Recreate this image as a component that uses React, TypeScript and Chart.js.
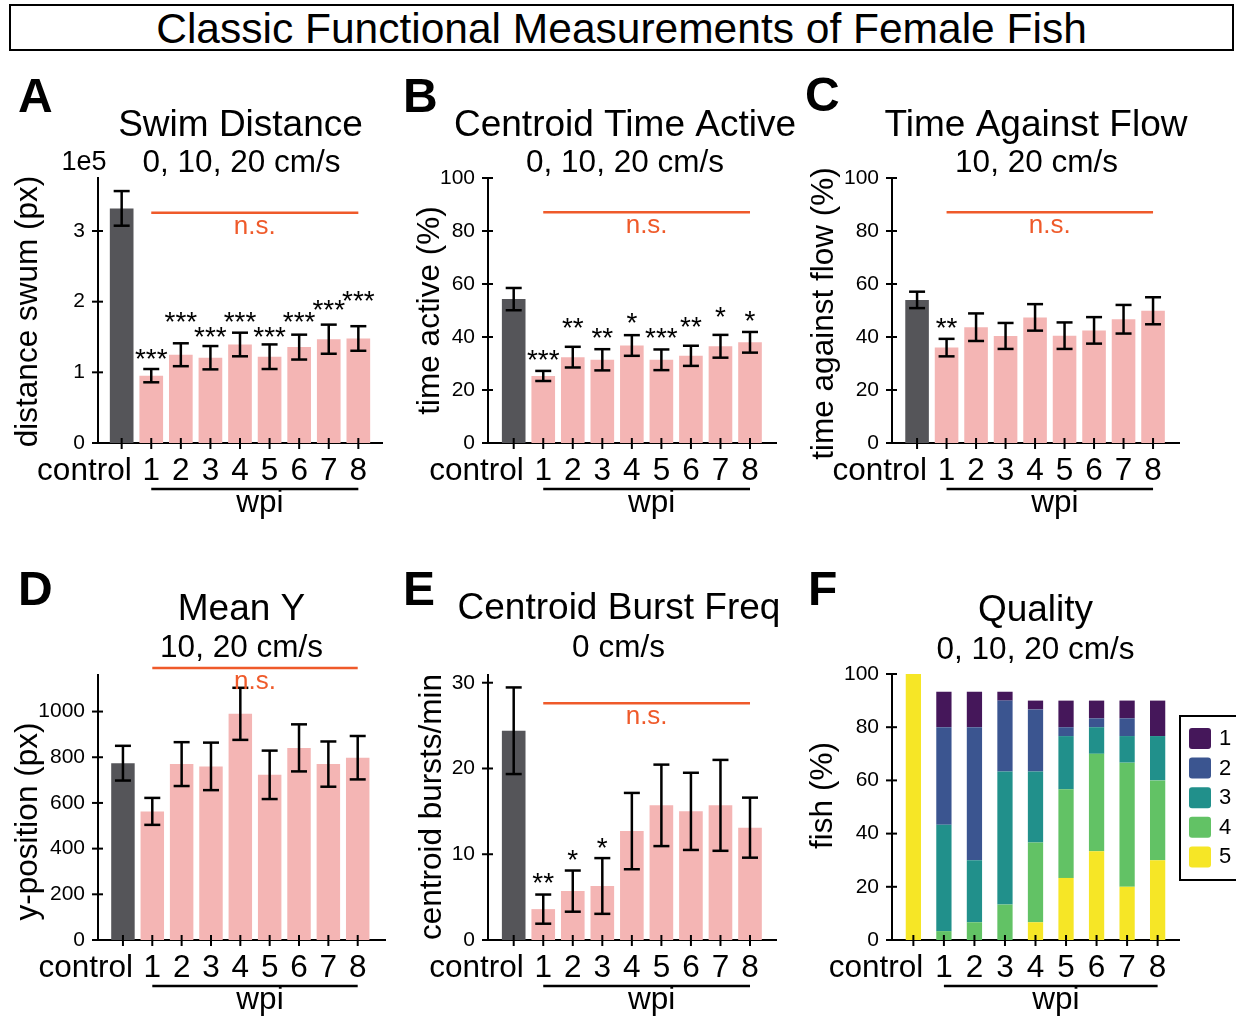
import React, { useEffect, useRef } from 'react';
import { Chart, registerables } from 'chart.js';

Chart.register(...registerables);

const FONT = "'Liberation Sans', Arial, Helvetica, sans-serif";
const INK = '#000000';
const NS_COLOR = '#ef5a2a';
const CONTROL_COLOR = '#555559';
const WPI_COLOR = '#f4b5b4';

// x categories shared by every panel
const groupLabels = ['control', '1', '2', '3', '4', '5', '6', '7', '8'];

// A: swim distance, in units of 1e5 px
const swimDistMean = [3.32, 0.953, 1.249, 1.207, 1.394, 1.221, 1.357, 1.469, 1.479];
const swimDistErr = [0.245, 0.094, 0.162, 0.165, 0.167, 0.174, 0.176, 0.206, 0.174];
const swimDistSig = ['', '***', '***', '***', '***', '***', '***', '***', '***'];
const swimDistTicks = [0, 1, 2, 3];

// B: centroid time active (%)
const timeActiveMean = [54.3, 25.3, 32.4, 31.4, 36.8, 31.4, 32.9, 36.5, 38.0];
const timeActiveErr = [4.2, 1.9, 3.9, 4.0, 3.9, 3.9, 3.8, 4.3, 3.9];
const timeActiveSig = ['', '***', '**', '**', '*', '***', '**', '*', '*'];
const percentTicks = [0, 20, 40, 60, 80, 100];

// C: time against flow (%)
const againstFlowMean = [54.0, 36.0, 43.7, 40.4, 47.4, 40.5, 42.5, 46.7, 49.9];
const againstFlowErr = [3.1, 3.3, 5.2, 4.9, 5.0, 5.0, 5.0, 5.4, 5.1];
const againstFlowSig = ['', '**', '', '', '', '', '', '', ''];

// D: mean y-position (px)
const meanYMean = [774, 563, 770, 760, 990, 723, 841, 770, 798];
const meanYErr = [76, 59, 96, 104, 114, 106, 103, 99, 95];
const meanYTicks = [0, 200, 400, 600, 800, 1000];

// E: centroid bursts per minute
const burstMean = [24.4, 3.6, 5.7, 6.3, 12.7, 15.7, 15.0, 15.7, 13.1];
const burstErr = [5.05, 1.7, 2.4, 3.25, 4.45, 4.75, 4.5, 5.3, 3.5];
const burstSig = ['', '**', '*', '*', '', '', '', '', ''];
const burstTicks = [0, 10, 20, 30];

// F: swim quality score distribution (% of fish)
const qualityScores = ['1', '2', '3', '4', '5'];
const quality1 = [0, 13.33, 13.33, 3.33, 3.33, 10, 6.67, 6.67, 13.33];
const quality2 = [0, 36.67, 50, 26.67, 23.33, 3.33, 3.33, 6.67, 0];
const quality3 = [0, 40, 23.33, 50, 26.67, 20, 10, 10, 16.67];
const quality4 = [0, 3.33, 6.67, 13.33, 30, 33.33, 36.67, 46.67, 30];
const quality5 = [100, 0, 0, 0, 6.67, 23.33, 33.33, 20, 30];
const qualityColors = ['#45175a', '#3b5590', '#21908b', '#62c265', '#f6e626'];

type Box = { left: number; top: number; width: number; height: number };
type Area = { left: number; right: number; top: number; bottom: number };

type Panel = {
  id: string;
  letter: string;
  title: string;
  subtitle: string;
  yTitle: string;
  exponent?: string;
  mean?: number[];
  err?: number[];
  sig?: string[];
  sigY?: number[];
  nsY?: number;
  stacks?: { label: string; values: number[]; color: string }[];
  yTicks: number[];
  yMax: number;
  xMin: number;
  xMax: number;
  barPct: number;
  box: Box;
  area: Area;
  letterAt: [number, number];
  titleAt: [number, number];
  subtitleAt: [number, number];
  yTitleAt: [number, number];
};

const panels: Panel[] = [
  {
    id: 'A', letter: 'A', title: 'Swim Distance', subtitle: '0, 10, 20 cm/s', yTitle: 'distance swum (px)', exponent: '1e5',
    mean: swimDistMean, err: swimDistErr, sig: swimDistSig,
    sigY: [0, 1.29, 1.81, 1.6, 1.81, 1.6, 1.81, 1.97, 2.11], nsY: 3.26,
    yTicks: swimDistTicks, yMax: 3.75, xMin: -0.8, xMax: 8.8, barPct: 0.8,
    box: { left: 0, top: 60, width: 400, height: 470 },
    area: { left: 98, right: 382, top: 178, bottom: 443 },
    letterAt: [18, 112], titleAt: [240.5, 136], subtitleAt: [241.5, 172], yTitleAt: [37, 311.5],
  },
  {
    id: 'B', letter: 'B', title: 'Centroid Time Active', subtitle: '0, 10, 20 cm/s', yTitle: 'time active (%)',
    mean: timeActiveMean, err: timeActiveErr, sig: timeActiveSig,
    sigY: [0, 33.9, 45.8, 42.0, 47.7, 42.0, 46.2, 49.9, 48.7], nsY: 87.1,
    yTicks: percentTicks, yMax: 100, xMin: -0.87, xMax: 8.88, barPct: 0.8,
    box: { left: 400, top: 60, width: 400, height: 470 },
    area: { left: 488, right: 776, top: 178, bottom: 443 },
    letterAt: [403, 112], titleAt: [625, 136], subtitleAt: [625, 172], yTitleAt: [439, 310.5],
  },
  {
    id: 'C', letter: 'C', title: 'Time Against Flow', subtitle: '10, 20 cm/s', yTitle: 'time against flow (%)',
    mean: againstFlowMean, err: againstFlowErr, sig: againstFlowSig,
    sigY: [0, 45.8, 0, 0, 0, 0, 0, 0, 0], nsY: 87.1,
    yTicks: percentTicks, yMax: 100, xMin: -0.85, xMax: 8.88, barPct: 0.8,
    box: { left: 800, top: 60, width: 436, height: 470 },
    area: { left: 892, right: 1179, top: 178, bottom: 443 },
    letterAt: [805, 111], titleAt: [1036, 136], subtitleAt: [1036.5, 172], yTitleAt: [833, 313.5],
  },
  {
    id: 'D', letter: 'D', title: 'Mean Y', subtitle: '10, 20 cm/s', yTitle: 'y-position (px)',
    mean: meanYMean, err: meanYErr, nsY: 1191,
    yTicks: meanYTicks, yMax: 1160, xMin: -0.85, xMax: 8.93, barPct: 0.8,
    box: { left: 0, top: 560, width: 400, height: 460 },
    area: { left: 98, right: 385, top: 675, bottom: 940 },
    letterAt: [18, 605], titleAt: [241.5, 620], subtitleAt: [241.5, 657], yTitleAt: [37, 821.5],
  },
  {
    id: 'E', letter: 'E', title: 'Centroid Burst Freq', subtitle: '0 cm/s', yTitle: 'centroid bursts/min',
    mean: burstMean, err: burstErr, sig: burstSig,
    sigY: [0, 7.4, 10.1, 11.5, 0, 0, 0, 0, 0], nsY: 27.6,
    yTicks: burstTicks, yMax: 30.9, xMin: -0.87, xMax: 8.88, barPct: 0.8,
    box: { left: 400, top: 560, width: 400, height: 460 },
    area: { left: 488, right: 776, top: 675, bottom: 940 },
    letterAt: [403, 605], titleAt: [619, 619], subtitleAt: [618.5, 657], yTitleAt: [441, 807],
  },
  {
    id: 'F', letter: 'F', title: 'Quality', subtitle: '0, 10, 20 cm/s', yTitle: 'fish (%)',
    stacks: [
      { label: qualityScores[4], values: quality5, color: qualityColors[4] },
      { label: qualityScores[3], values: quality4, color: qualityColors[3] },
      { label: qualityScores[2], values: quality3, color: qualityColors[2] },
      { label: qualityScores[1], values: quality2, color: qualityColors[1] },
      { label: qualityScores[0], values: quality1, color: qualityColors[0] },
    ],
    yTicks: percentTicks, yMax: 100, xMin: -0.7, xMax: 8.7, barPct: 0.5,
    box: { left: 800, top: 560, width: 436, height: 460 },
    area: { left: 892, right: 1179, top: 674, bottom: 940 },
    letterAt: [808, 605], titleAt: [1035.5, 621], subtitleAt: [1035.5, 659], yTitleAt: [832, 795.5],
  },
];

function strokeLine(ctx: CanvasRenderingContext2D, x1: number, y1: number, x2: number, y2: number) {
  ctx.beginPath();
  ctx.moveTo(x1, y1);
  ctx.lineTo(x2, y2);
  ctx.stroke();
}

function drawPanel(chart: Chart, p: Panel) {
  const ctx = chart.ctx;
  const xs = chart.scales.x;
  const ys = chart.scales.y;
  const ca = chart.chartArea;
  const px = (x: number) => x - p.box.left;
  const py = (y: number) => y - p.box.top;
  const axisY = ca.bottom;
  const axisX = ca.left;

  ctx.save();
  ctx.strokeStyle = INK;
  ctx.fillStyle = INK;
  ctx.lineCap = 'butt';

  // error bars (mean ± error)
  if (p.mean && p.err) {
    const cap = 8;
    ctx.lineWidth = 2.5;
    p.mean.forEach((m, i) => {
      const x = xs.getPixelForValue(i);
      const hi = ys.getPixelForValue(m + p.err![i]);
      const lo = ys.getPixelForValue(m - p.err![i]);
      strokeLine(ctx, x, hi, x, lo);
      strokeLine(ctx, x - cap, hi, x + cap, hi);
      strokeLine(ctx, x - cap, lo, x + cap, lo);
    });
  }

  // tick marks crossing both spines
  ctx.lineWidth = 2;
  groupLabels.forEach((_, i) => {
    const x = xs.getPixelForValue(i);
    strokeLine(ctx, x, axisY - 5, x, axisY + 6);
  });
  p.yTicks.forEach((v) => {
    const y = ys.getPixelForValue(v);
    strokeLine(ctx, axisX - 6, y, axisX + 5, y);
  });

  // category labels
  ctx.font = `31.5px ${FONT}`;
  ctx.textBaseline = 'alphabetic';
  groupLabels.forEach((lab, i) => {
    const x = xs.getPixelForValue(i);
    if (i === 0) {
      ctx.textAlign = 'right';
      ctx.fillText(lab, x + 10, axisY + 37);
    } else {
      ctx.textAlign = 'center';
      ctx.fillText(lab, x, axisY + 37);
    }
  });

  // wpi bracket under the week groups
  const x1 = xs.getPixelForValue(1);
  const x8 = xs.getPixelForValue(8);
  ctx.lineWidth = 2.5;
  strokeLine(ctx, x1, axisY + 46, x8, axisY + 46);
  ctx.textAlign = 'center';
  ctx.font = `31.5px ${FONT}`;
  ctx.fillText('wpi', (x1 + x8) / 2 + 5, axisY + 69);

  // significance stars versus control
  if (p.sig && p.sigY) {
    const size = 28;
    ctx.font = `${size}px ${FONT}`;
    ctx.textAlign = 'center';
    p.sig.forEach((s, i) => {
      if (!s) return;
      const x = xs.getPixelForValue(i);
      const y = ys.getPixelForValue(p.sigY![i]);
      ctx.fillText(s, x, y + size * 0.56);
    });
  }

  // n.s. bar across the week groups
  if (p.nsY !== undefined) {
    const y = ys.getPixelForValue(p.nsY);
    ctx.strokeStyle = NS_COLOR;
    ctx.fillStyle = NS_COLOR;
    ctx.lineWidth = 2.5;
    strokeLine(ctx, x1, y, x8, y);
    ctx.font = `26px ${FONT}`;
    ctx.textAlign = 'center';
    ctx.fillText('n.s.', (x1 + x8) / 2, y + 21);
    ctx.strokeStyle = INK;
    ctx.fillStyle = INK;
  }

  // headings
  ctx.textAlign = 'left';
  ctx.font = `bold 48px ${FONT}`;
  ctx.fillText(p.letter, px(p.letterAt[0]), py(p.letterAt[1]));
  ctx.textAlign = 'center';
  ctx.font = `37px ${FONT}`;
  ctx.fillText(p.title, px(p.titleAt[0]), py(p.titleAt[1]));
  ctx.font = `31.5px ${FONT}`;
  ctx.fillText(p.subtitle, px(p.subtitleAt[0]), py(p.subtitleAt[1]));

  if (p.exponent) {
    ctx.font = `27px ${FONT}`;
    ctx.textAlign = 'center';
    ctx.fillText(p.exponent, axisX - 14, ca.top - 8);
  }

  // y-axis title
  ctx.save();
  ctx.translate(px(p.yTitleAt[0]), py(p.yTitleAt[1]));
  ctx.rotate(-Math.PI / 2);
  ctx.textAlign = 'center';
  ctx.font = `31.5px ${FONT}`;
  ctx.fillText(p.yTitle, 0, 0);
  ctx.restore();

  // legend for stacked quality scores (top score first)
  if (p.stacks) {
    const boxL = px(1180);
    const boxT = py(716);
    ctx.lineWidth = 2;
    ctx.strokeRect(boxL, boxT, 80, 164);
    const order = [...p.stacks].reverse();
    order.forEach((s, i) => {
      const top = py(728) + i * 29.6;
      ctx.fillStyle = s.color;
      ctx.beginPath();
      ctx.roundRect(px(1189), top, 22, 21, 3);
      ctx.fill();
      ctx.fillStyle = INK;
      ctx.font = `22px ${FONT}`;
      ctx.textAlign = 'left';
      ctx.textBaseline = 'middle';
      ctx.fillText(s.label, px(1219), top + 11);
      ctx.textBaseline = 'alphabetic';
    });
  }

  ctx.restore();
}

function buildConfig(p: Panel): any {
  const local = {
    left: p.area.left - p.box.left,
    right: p.area.right - p.box.left,
    top: p.area.top - p.box.top,
    bottom: p.area.bottom - p.box.top,
  };
  const stacked = !!p.stacks;
  const datasets = stacked
    ? p.stacks!.map((s) => ({
        label: s.label,
        data: s.values.map((v, i) => ({ x: i, y: v })),
        backgroundColor: s.color,
        borderWidth: 0,
        barPercentage: p.barPct,
        categoryPercentage: 1,
      }))
    : [
        {
          label: p.title,
          data: p.mean!.map((v, i) => ({ x: i, y: v })),
          backgroundColor: p.mean!.map((_, i) => (i === 0 ? CONTROL_COLOR : WPI_COLOR)),
          borderWidth: 0,
          barPercentage: p.barPct,
          categoryPercentage: 1,
        },
      ];

  return {
    type: 'bar',
    data: { datasets },
    options: {
      animation: false,
      responsive: false,
      maintainAspectRatio: false,
      events: [],
      layout: { padding: { top: local.top, right: p.box.width - local.right, left: 0, bottom: 0 } },
      plugins: { legend: { display: false }, tooltip: { enabled: false } },
      scales: {
        x: {
          type: 'linear',
          min: p.xMin,
          max: p.xMax,
          offset: false,
          stacked,
          z: 1,
          grid: { display: false, drawTicks: false, offset: false },
          border: { display: true, color: INK, width: 2 },
          ticks: { display: false },
          afterBuildTicks: (s: any) => {
            s.ticks = groupLabels.map((_, i) => ({ value: i }));
          },
          afterFit: (s: any) => {
            s.height = p.box.height - local.bottom;
          },
        },
        y: {
          type: 'linear',
          min: 0,
          max: p.yMax,
          stacked,
          z: 1,
          grid: { display: false, drawTicks: false },
          border: { display: true, color: INK, width: 2 },
          ticks: {
            color: INK,
            padding: 13,
            font: { family: FONT, size: 21 },
            callback: (v: number) => String(v),
          },
          afterBuildTicks: (s: any) => {
            s.ticks = p.yTicks.map((v) => ({ value: v }));
          },
          afterFit: (s: any) => {
            s.width = local.left;
          },
        },
      },
    },
    plugins: [{ id: 'decor' + p.id, afterDraw: (chart: Chart) => drawPanel(chart, p) }],
  };
}

function PanelChart({ panel }: { panel: Panel }) {
  const ref = useRef<HTMLCanvasElement | null>(null);
  useEffect(() => {
    if (!ref.current) return;
    const chart = new Chart(ref.current, buildConfig(panel));
    return () => chart.destroy();
  }, [panel]);
  return (
    <canvas
      ref={ref}
      width={panel.box.width}
      height={panel.box.height}
      style={{
        position: 'absolute',
        left: panel.box.left,
        top: panel.box.top,
        width: panel.box.width,
        height: panel.box.height,
      }}
    />
  );
}

export default function App() {
  useEffect(() => {
    document.body.style.margin = '0';
  }, []);
  return (
    <div
      style={{
        position: 'absolute',
        left: 0,
        top: 0,
        width: 1236,
        height: 1020,
        background: '#ffffff',
        overflow: 'hidden',
      }}
    >
      <div
        style={{
          position: 'absolute',
          left: 9,
          top: 4,
          width: 1225,
          height: 47,
          boxSizing: 'border-box',
          border: '2px solid #000',
          fontFamily: FONT,
          fontSize: 42.5,
          lineHeight: '43px',
          paddingTop: 1,
          textAlign: 'center',
          color: INK,
        }}
      >
        Classic Functional Measurements of Female Fish
      </div>
      {panels.map((p) => (
        <PanelChart key={p.id} panel={p} />
      ))}
    </div>
  );
}
